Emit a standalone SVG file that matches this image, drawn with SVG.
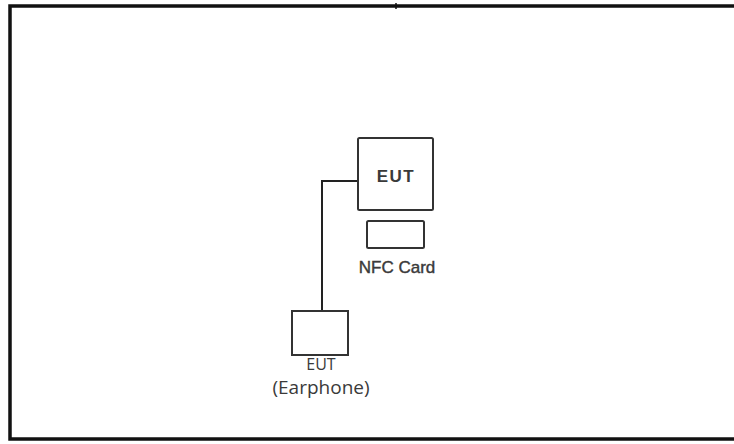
<svg xmlns="http://www.w3.org/2000/svg" width="734" height="444" viewBox="0 0 734 444">
<style>
.box{fill:#fff;stroke:#333;stroke-width:2}
.frame{fill:none;stroke:#111;stroke-width:3.5}
.wire{fill:none;stroke:#222;stroke-width:2}
.t1{font-family:"Liberation Sans",Arial,sans-serif;fill:#3a3a3a;text-anchor:middle}
.t2{font-family:"Open Sans","Noto Sans",sans-serif;fill:#3a3a3a;text-anchor:middle}
</style>
<rect width="734" height="444" fill="#fff"/>
<g id="frame">
<rect class="frame" x="10" y="6" width="740" height="433"/>
<line x1="396" y1="3" x2="396" y2="9" stroke="#111" stroke-width="1.5"/>
</g>
<g id="connectors">
<polyline class="wire" points="358,181 322,181 322,311"/>
</g>
<g id="eut">
<rect class="box" x="358" y="138" width="75" height="72" rx="1.5"/>
<text class="t1" x="396" y="182" font-size="17" font-weight="bold" letter-spacing="1.5">EUT</text>
</g>
<g id="nfc">
<rect class="box" x="367" y="221" width="57" height="27" rx="1.5"/>
<text class="t1" x="397" y="273" font-size="17" stroke="#3a3a3a" stroke-width="0.4">NFC Card</text>
</g>
<g id="earphone">
<rect class="box" x="292" y="311" width="56" height="44"/>
<text class="t2" x="321" y="370" font-size="16">EUT</text>
<text class="t2" x="321" y="394" font-size="19">(Earphone)</text>
</g>
</svg>
